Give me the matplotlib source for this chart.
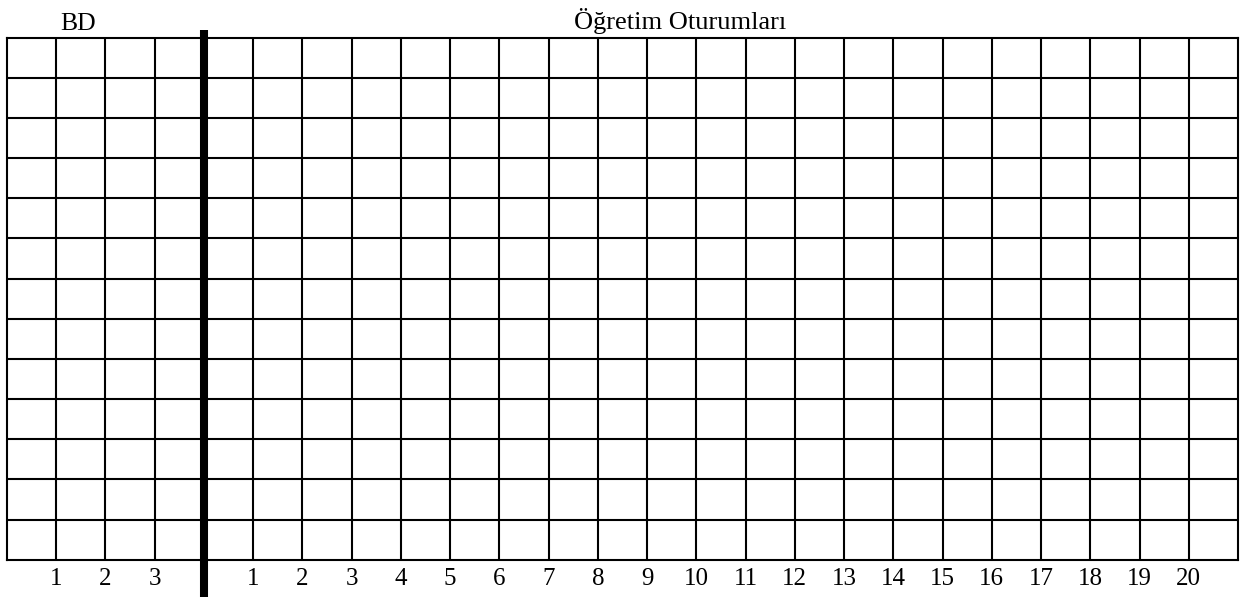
import matplotlib
matplotlib.use("Agg")
import matplotlib.pyplot as plt
from matplotlib.transforms import blended_transform_factory

# Data
bd_sessions = [1, 2, 3]
teaching_sessions = list(range(1, 21))
n_rows = 13
n_bd_cols = 4
n_teach_cols = 21
left_title = "BD"
right_title = "Öğretim Oturumları"

plt.rcParams['font.family'] = ['Liberation Serif', 'DejaVu Serif']

W, H = 1245, 597
fig = plt.figure(figsize=(W / 100, H / 100), dpi=100)
x0, x1 = 7, 1238
y0, y1 = 37.7, 559.7
ax = fig.add_axes([x0 / W, (H - y1) / H, (x1 - x0) / W, (y1 - y0) / H])
n_cols = n_bd_cols + n_teach_cols
ax.set_xlim(0, n_cols)
ax.set_ylim(0, n_rows)
ax.set_xticks([])
ax.set_yticks([])
for s in ax.spines.values():
    s.set_linewidth(1.5)
    s.set_color('black')

for i in range(1, n_cols):
    if i != n_bd_cols:
        ax.axvline(i, color='black', lw=1.5)
for j in range(1, n_rows):
    ax.axhline(j, color='black', lw=1.5)

trans = blended_transform_factory(ax.transData, ax.transAxes)
ax_h = y1 - y0
ax.plot([n_bd_cols, n_bd_cols], [(y1 - 30) / ax_h, (y1 - 597) / ax_h],
        color='black', lw=5.8, transform=trans, clip_on=False, solid_capstyle='butt')

lab_y = (y1 - 585) / ax_h
for k, v in enumerate(bd_sessions):
    ax.text(k + 1, lab_y, str(v), transform=trans, ha='center', va='baseline', fontsize=18)
for k, v in enumerate(teaching_sessions):
    ax.text(n_bd_cols + 1 + k, lab_y, str(v), transform=trans, ha='center', va='baseline', fontsize=18)

title_y = (y1 - 29.5) / ax_h
ax.text(1.44, title_y, left_title, transform=trans, ha='center', va='baseline', fontsize=18.5)
ax.text(13.67, title_y, right_title, transform=trans, ha='center', va='baseline', fontsize=19)

fig.savefig("out.png", dpi=100)
